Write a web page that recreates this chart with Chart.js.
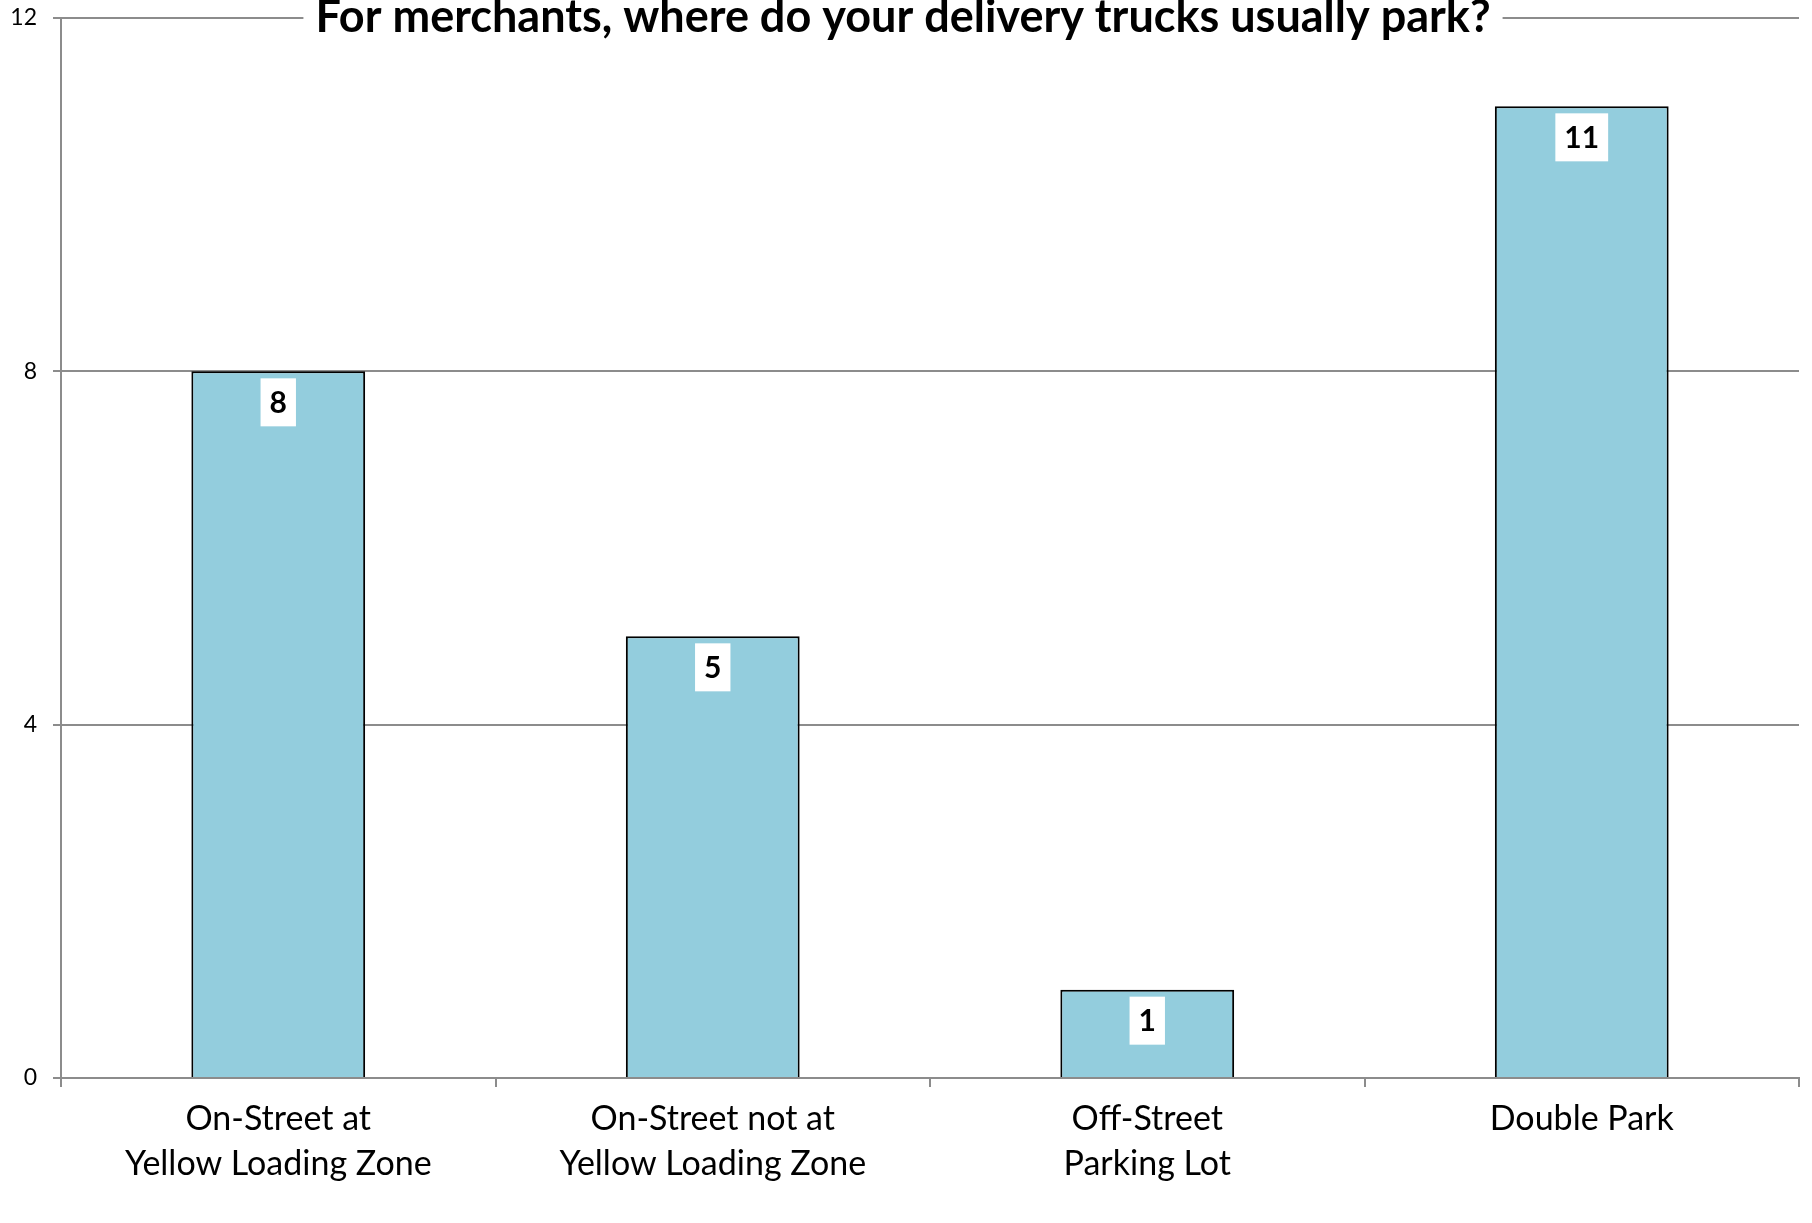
<!DOCTYPE html>
<html>
<head>
<meta charset="utf-8">
<script src="https://cdn.jsdelivr.net/npm/chart.js@4"></script>
<style>
  html, body { margin: 0; padding: 0; background: #fff; }
  canvas { display: block; }
</style>
</head>
<body>
<canvas id="chart" width="1812" height="1223"></canvas>
<script>
const categories = [
    ["On-Street at", "Yellow Loading Zone"],
    ["On-Street not at", "Yellow Loading Zone"],
    ["Off-Street", "Parking Lot"],
    "Double Park"
];
const counts = [8, 5, 1, 11];
const yTicks = [0, 4, 8, 12];
const chartTitle = "For merchants, where do your delivery trucks usually park?";

const FONT = "Lato, 'Open Sans', sans-serif";
const GRID = "#8c8c8c";

// white boxed value label near the top of each bar
const barLabels = {
    id: "barLabels",
    afterDatasetsDraw(chart) {
        const ctx = chart.ctx;
        const meta = chart.getDatasetMeta(0);
        ctx.save();
        ctx.font = "bold 30px " + FONT;
        ctx.textAlign = "center";
        ctx.textBaseline = "middle";
        meta.data.forEach((bar, i) => {
            const txt = String(counts[i]);
            const w = ctx.measureText(txt).width + 18;
            const h = 48;
            const top = bar.y + 7;
            ctx.fillStyle = "#fff";
            ctx.fillRect(bar.x - w / 2, top, w, h);
            ctx.fillStyle = "#000";
            ctx.fillText(txt, bar.x, top + h / 2 + 1);
        });
        ctx.restore();
    }
};

// title sits on top gridline with a white backing
const titleOnGrid = {
    id: "titleOnGrid",
    afterDraw(chart) {
        const ctx = chart.ctx;
        const area = chart.chartArea;
        ctx.save();
        ctx.font = "bold 45px " + FONT;
        ctx.textAlign = "center";
        ctx.textBaseline = "middle";
        const cx = 903;
        const w = ctx.measureText(chartTitle).width + 24;
        ctx.fillStyle = "#fff";
        ctx.fillRect(cx - w / 2, 0, w, area.top + 4);
        ctx.fillStyle = "#000";
        ctx.fillText(chartTitle, cx, area.top - 1);
        ctx.restore();
    }
};

new Chart(document.querySelector("#chart"), {
    type: "bar",
    data: {
        labels: categories,
        datasets: [
            {
                data: counts,
                backgroundColor: "#93cddd",
                borderColor: "#000",
                borderWidth: 2,
                borderSkipped: "bottom",
                categoryPercentage: 0.4,
                barPercentage: 1
            }
        ]
    },
    options: {
        responsive: false,
        animation: false,
        devicePixelRatio: 1,
        layout: { padding: { top: 18, right: 13, left: 0, bottom: 0 } },
        plugins: {
            legend: { display: false },
            tooltip: { enabled: false }
        },
        scales: {
            x: {
                afterFit(scale) {
                    scale.height = 145;
                    scale.paddingLeft = 0;
                    scale.paddingRight = 0;
                },
                border: { display: true, color: GRID, width: 2 },
                grid: {
                    offset: true,
                    drawOnChartArea: false,
                    drawTicks: true,
                    tickLength: 9,
                    color: GRID,
                    lineWidth: 2
                },
                ticks: {
                    color: "#000",
                    font: { family: FONT, size: 34, lineHeight: 1.32 },
                    padding: 10,
                    maxRotation: 0,
                    autoSkip: false
                }
            },
            y: {
                min: 0,
                max: 12,
                afterFit(scale) {
                    scale.width = 61;
                    scale.paddingTop = 0;
                    scale.paddingBottom = 0;
                },
                afterBuildTicks(scale) {
                    scale.ticks = yTicks.map(v => ({ value: v }));
                },
                border: { display: true, color: GRID, width: 2 },
                grid: {
                    color: GRID,
                    lineWidth: 2,
                    drawTicks: true,
                    tickLength: 8
                },
                ticks: {
                    color: "#000",
                    font: { family: FONT, size: 23 },
                    padding: 16
                }
            }
        }
    },
    plugins: [barLabels, titleOnGrid]
});
</script>
</body>
</html>
